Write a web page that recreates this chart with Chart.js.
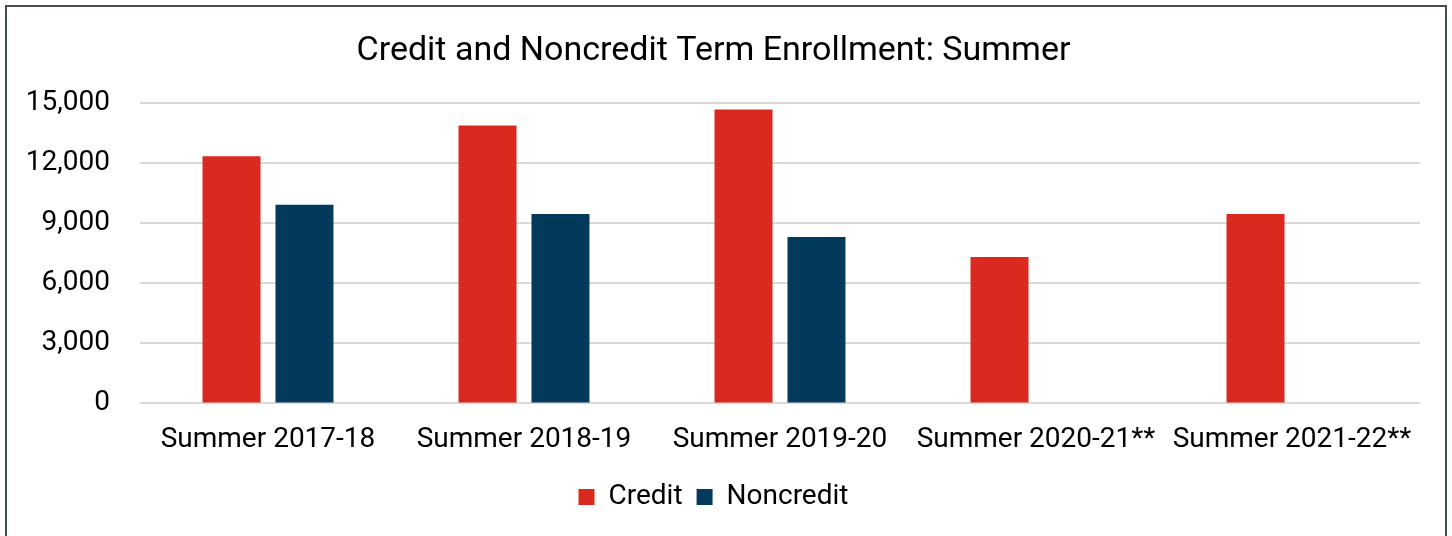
<!DOCTYPE html>
<html>
<head>
<meta charset="utf-8">
<script src="https://cdn.jsdelivr.net/npm/chart.js@4"></script>
<style>
  html, body { margin: 0; padding: 0; background: #fff; overflow: hidden; }
  .frame {
    position: absolute; left: 5px; top: 5px;
    width: 1438px; height: 540px;
    border: 2px solid #434d52;
    background: #fff;
  }
  .frame canvas { display: block; }
</style>
</head>
<body>
<div class="frame"><canvas id="enrollChart" width="1438" height="540"></canvas></div>
<script>
const categories = ['Summer 2017-18', 'Summer 2018-19', 'Summer 2019-20', 'Summer 2020-21**', 'Summer 2021-22**'];
const creditValues = [12330, 13870, 14660, 7300, 9450];
const noncreditValues = [9910, 9450, 8300, null, null];
const yTicks = [0, 3000, 6000, 9000, 12000, 15000];

const FONT = 'Roboto';

document.addEventListener('DOMContentLoaded', () => {
    const ctx = document.getElementById('enrollChart').getContext('2d');

    new Chart(ctx, {
        type: 'bar',
        data: {
            labels: categories,
            datasets: [
                {
                    label: 'Credit',
                    data: creditValues,
                    backgroundColor: '#da291e',
                    categoryPercentage: 0.57,
                    barPercentage: 0.795
                },
                {
                    label: 'Noncredit',
                    data: noncreditValues,
                    backgroundColor: '#033a5c',
                    categoryPercentage: 0.57,
                    barPercentage: 0.795
                }
            ]
        },
        options: {
            responsive: false,
            animation: false,
            layout: { padding: { left: 0, right: 25, top: 14, bottom: 26 } },
            plugins: {
                title: {
                    display: true,
                    text: 'Credit and Noncredit Term Enrollment: Summer',
                    color: '#000',
                    font: { family: FONT, size: 34, weight: 'normal' },
                    padding: { top: 10, bottom: 31 }
                },
                legend: {
                    position: 'bottom',
                    labels: {
                        color: '#000',
                        font: { family: FONT, size: 28 },
                        boxWidth: 16,
                        boxHeight: 16,
                        padding: 14
                    }
                },
                tooltip: { enabled: false }
            },
            scales: {
                x: {
                    grid: { display: false },
                    border: { display: false },
                    ticks: {
                        color: '#000',
                        font: { family: FONT, size: 28 },
                        padding: 12,
                        maxRotation: 0,
                        autoSkip: false
                    }
                },
                y: {
                    min: 0,
                    max: 15000,
                    afterFit: (scale) => { scale.width = 133; },
                    afterBuildTicks: (scale) => {
                        scale.ticks = yTicks.map(v => ({ value: v }));
                    },
                    grid: { color: '#d9d9d9', lineWidth: 2, drawTicks: false },
                    border: { display: false },
                    ticks: {
                        color: '#000',
                        font: { family: FONT, size: 28 },
                        padding: 30,
                        callback: (v) => v.toLocaleString('en-US')
                    }
                }
            }
        }
    });
});
</script>
</body>
</html>
